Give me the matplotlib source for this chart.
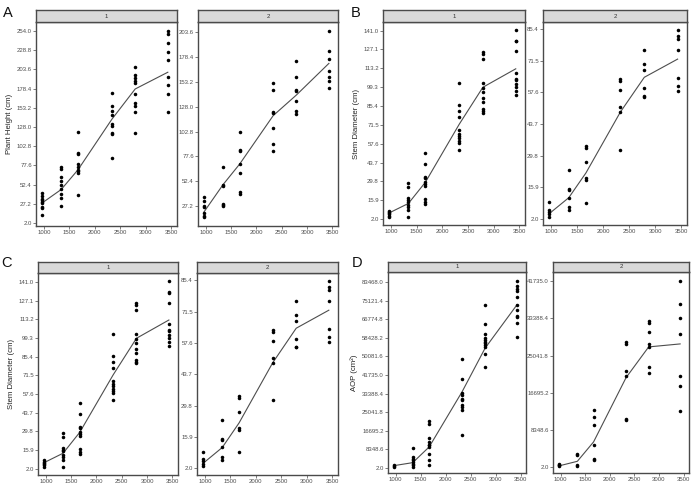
import matplotlib
matplotlib.use("Agg")
import matplotlib.pyplot as plt

plt.rcParams['font.family'] = ['Liberation Sans', 'DejaVu Sans']

W, H = 700, 490

# ---------------- data ----------------
x_vals = [960, 1340, 1670, 2330, 2790, 3430]
x_ticks = [1000, 1500, 2000, 2500, 3000, 3500]

height_1 = [
    [41, 38, 34, 32, 30, 28, 23, 21, 12],
    [75, 73, 63, 57, 52, 46, 40, 35, 24],
    [121, 94, 92, 79, 75, 72, 70, 68, 39],
    [173, 156, 149, 144, 132, 129, 120, 119, 87],
    [207, 196, 193, 188, 186, 171, 159, 155, 148, 120],
    [254, 250, 238, 226, 216, 194, 183, 172, 148],
]
height_line_1 = [28, 46, 72, 138, 178, 200]

height_2 = [
    [36, 32, 27, 26, 20, 17, 16],
    [67, 49, 48, 29, 28, 27],
    [102, 84, 83, 70, 61, 42, 39],
    [152, 145, 123, 122, 106, 90, 83],
    [174, 158, 145, 144, 134, 124, 121],
    [205, 185, 176, 164, 158, 154, 147],
]
height_line_2 = [21, 49, 70, 119, 140, 172]

diam_1 = [
    [8.2, 7.2, 6.5, 5.5, 4.5, 3.5],
    [28.5, 26.0, 17.6, 16.1, 14.9, 12.4, 10.7, 8.4, 3.7],
    [51.0, 42.8, 33.4, 32.4, 29.2, 28.2, 26.5, 16.8, 14.4, 13.1],
    [102.7, 86.3, 81.6, 77.2, 67.5, 65.1, 63.3, 61.8, 59.9, 58.1, 53.2],
    [125.2, 123.7, 120.0, 102.2, 98.4, 96.0, 91.0, 88.6, 83.1, 81.6, 80.6],
    [141.7, 133.6, 133.0, 125.7, 109.6, 105.4, 104.6, 101.4, 99.2, 96.7, 93.5],
]
diam_line_1 = [6.5, 13.6, 29.2, 72.0, 99.2, 112.8]

diam_2 = [
    [9.4, 6.1, 5.1, 4.2, 3.0],
    [23.3, 15.2, 14.8, 11.3, 7.1, 5.7],
    [34.1, 33.2, 27.0, 19.9, 18.9, 9.1],
    [63.5, 62.5, 58.6, 51.0, 48.8, 32.2],
    [76.3, 70.1, 67.5, 59.4, 56.0, 55.7],
    [85.1, 82.5, 81.0, 76.3, 63.8, 60.4, 58.3],
]
diam_line_2 = [4.2, 11.3, 22.2, 48.9, 64.2, 72.2]

aop_1 = [
    [1060, 800, 450],
    [9040, 4820, 4070, 3320, 2560, 1810, 1060, 300],
    [21090, 19440, 13410, 11600, 10400, 10100, 9340, 6330, 3320, 1360],
    [48820, 39780, 33450, 32700, 30890, 30280, 28180, 27120, 25920, 14620],
    [73370, 64640, 60120, 58310, 57560, 56800, 56050, 55300, 54540, 51080, 45200],
    [83920, 81660, 80600, 79400, 76690, 73370, 71110, 68100, 67650, 65090, 58610],
]
aop_line_1 = [900, 2260, 9340, 34200, 53790, 73370]

aop_2 = [
    [750, 530, 380, 230],
    [3010, 2630, 530, 230],
    [12780, 11130, 9550, 4890, 1880, 1510],
    [28050, 27750, 21580, 20530, 10900, 10530],
    [32860, 32330, 30300, 27750, 27000, 22560, 21200],
    [41730, 36620, 33460, 29850, 20530, 18270, 12560],
]
aop_line_2 = [230, 1280, 5640, 20080, 27000, 27670]

height_ticks_1 = [2.0, 27.2, 52.4, 77.6, 102.8, 128.0, 153.2, 178.4, 203.6, 228.8, 254.0]
height_ticks_2 = [27.2, 52.4, 77.6, 102.8, 128.0, 153.2, 178.4, 203.6]
diam_ticks_1 = [2.0, 15.9, 29.8, 43.7, 57.6, 71.5, 85.4, 99.3, 113.2, 127.1, 141.0]
diam_ticks_2 = [2.0, 15.9, 29.8, 43.7, 57.6, 71.5, 85.4]
aop_ticks_1 = [2.0, 8348.6, 16695.2, 25041.8, 33388.4, 41735.0, 50081.6,
               58428.2, 66774.8, 75121.4, 83468.0]
aop_ticks_2 = [2.0, 8348.6, 16695.2, 25041.8, 33388.4, 41735.0]

fig = plt.figure(figsize=(7, 4.9), dpi=100)

EDGE = '#4a4a4a'


def panel(box, strip_top, label, cols, line, ticks, ylim, ylabel=None):
    l, t, r, b = box
    ax = fig.add_axes([l / W, 1 - b / H, (r - l) / W, (b - t) / H])
    for xv, ys in zip(x_vals, cols):
        ax.scatter([xv] * len(ys), ys, s=6.5, c='black', linewidths=0, zorder=3)
    ax.plot(x_vals, line, color='#4d4d4d', lw=0.8, zorder=2)
    ax.set_xlim(845, 3610)
    ax.set_ylim(*ylim)
    ax.set_xticks(x_ticks)
    ax.set_xticklabels([str(v) for v in x_ticks])
    ax.set_yticks(ticks)
    ax.set_yticklabels([f'{v:.1f}' for v in ticks])
    ax.tick_params(length=2, width=0.5, color=EDGE, labelsize=4.3,
                   labelcolor='#4d4d4d', pad=1)
    for s in ax.spines.values():
        s.set_color(EDGE)
        s.set_linewidth(1.0)
    if ylabel:
        ax.set_ylabel(ylabel, fontsize=5.6, color='#222222', labelpad=3)
    sax = fig.add_axes([l / W, 1 - t / H, (r - l) / W, (t - strip_top) / H])
    sax.set_facecolor('#d9d9d9')
    sax.set_xticks([])
    sax.set_yticks([])
    for s in sax.spines.values():
        s.set_color(EDGE)
        s.set_linewidth(1.0)
    sax.text(0.5, 0.5, label, ha='center', va='center', fontsize=4.3,
             color='#333333', transform=sax.transAxes)
    return ax


panel((36, 22, 177, 226), 10, '1', height_1, height_line_1, height_ticks_1,
      (-2, 266), 'Plant Height (cm)')
panel((198, 22, 338, 226), 10, '2', height_2, height_line_2, height_ticks_2,
      (7, 214))
panel((383, 22, 525, 225), 10, '1', diam_1, diam_line_1, diam_ticks_1,
      (-2.3, 147.3), 'Stem Diameter (cm)')
panel((543, 22, 687, 225), 10, '2', diam_2, diam_line_2, diam_ticks_2,
      (-0.7, 88.5))
panel((38, 273, 178, 475), 262, '1', diam_1, diam_line_1, diam_ticks_1,
      (-2.6, 147.8), 'Stem Diameter (cm)')
panel((197, 273, 338, 475), 262, '2', diam_2, diam_line_2, diam_ticks_2,
      (-0.9, 88.7))
panel((388, 272, 526, 473), 262, '1', aop_1, aop_line_1, aop_ticks_1,
      (-2400, 88100), 'AOP (cm²)')
panel((553, 272, 689, 473), 262, '2', aop_2, aop_line_2, aop_ticks_2,
      (-1350, 43840))

for letter, (px, py) in {'A': (8, 13), 'B': (356, 13), 'C': (6, 263), 'D': (357, 263)}.items():
    fig.text(px / W, 1 - py / H, letter, fontsize=10.5, ha='center', va='center',
             color='#111111')

fig.savefig('out.png', dpi=100)
